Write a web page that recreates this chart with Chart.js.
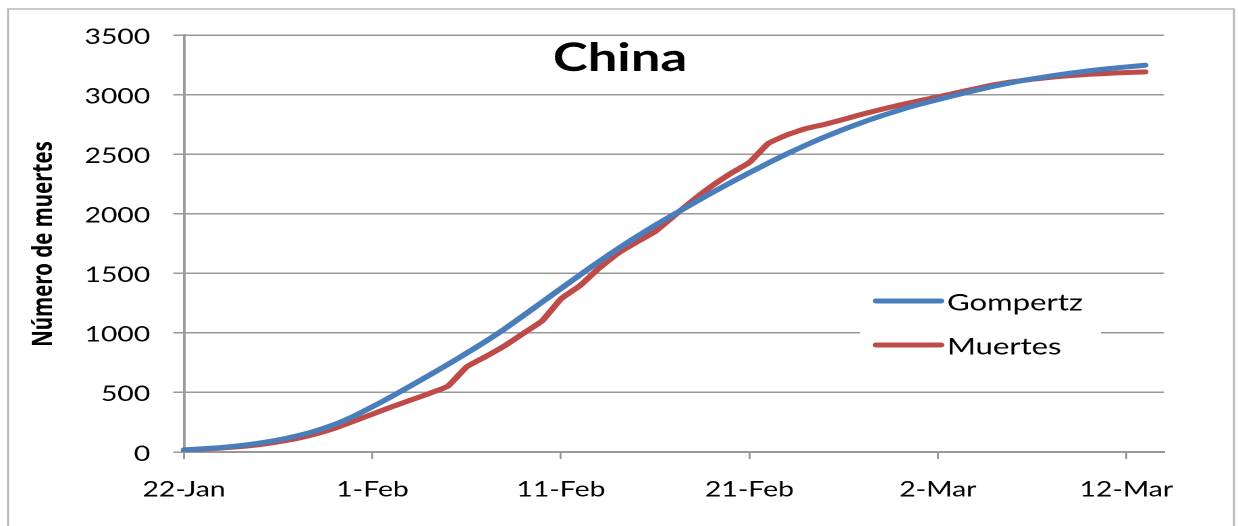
<!DOCTYPE html>
<html>
<head>
<meta charset="utf-8">
<script src="https://cdn.jsdelivr.net/npm/chart.js@4.4.1/dist/chart.umd.min.js"></script>
<style>
  html, body { margin: 0; padding: 0; background: #fff; overflow: hidden; }
  /* the original picture is an Excel chart stretched sideways, so draw narrow and stretch */
  #wrap { position: absolute; left: 0; top: 0; width: 917px; height: 526px; transform: scaleX(1.35); transform-origin: 0 0; }
</style>
</head>
<body>
<div id="wrap"><canvas id="myChart" width="917" height="526"></canvas></div>
<script>
// dias (22-Jan .. 14-Mar)
const fechas = [
  '22-Jan','23-Jan','24-Jan','25-Jan','26-Jan','27-Jan','28-Jan','29-Jan','30-Jan','31-Jan',
  '1-Feb','2-Feb','3-Feb','4-Feb','5-Feb','6-Feb','7-Feb','8-Feb','9-Feb','10-Feb',
  '11-Feb','12-Feb','13-Feb','14-Feb','15-Feb','16-Feb','17-Feb','18-Feb','19-Feb','20-Feb',
  '21-Feb','22-Feb','23-Feb','24-Feb','25-Feb','26-Feb','27-Feb','28-Feb','29-Feb','1-Mar',
  '2-Mar','3-Mar','4-Mar','5-Mar','6-Mar','7-Mar','8-Mar','9-Mar','10-Mar','11-Mar',
  '12-Mar','13-Mar','14-Mar'
];
const pasoEtiquetas = 10;

const gompertz = [18, 27, 38, 54, 75, 101, 135, 178, 232, 300, 380, 465, 553, 643, 735, 830, 928, 1032, 1144, 1258,
  1372, 1485, 1596, 1703, 1805, 1903, 1995, 2086, 2175, 2261, 2344, 2425, 2503, 2576, 2644, 2708, 2767, 2821, 2871, 2917,
  2958, 2997, 3035, 3071, 3103, 3131, 3156, 3179, 3199, 3217, 3232, 3246];

const muertes = [17, 24, 33, 46, 62, 86, 114, 152, 200, 258, 318, 378, 434, 490, 552, 715, 800, 890, 995, 1100,
  1285, 1395, 1540, 1665, 1760, 1850, 1982, 2112, 2232, 2337, 2430, 2590, 2662, 2715, 2750, 2792, 2836, 2876, 2913, 2948,
  2980, 3015, 3050, 3083, 3108, 3128, 3145, 3159, 3170, 3178, 3185, 3190];

const yMax = 3500;
const yPaso = 500;

const STRETCH = 1.35;
const sx = x => x / STRETCH;   // reference x -> canvas x
const W = 917;
const gris = '#999999';
const azul = '#4A7EBB';
const rojo = '#BE4B48';

const decor = {
  id: 'decor',
  beforeDraw(chart) {
    const ctx = chart.ctx;
    ctx.save();
    ctx.fillStyle = '#fff';
    ctx.fillRect(0, 0, chart.width, chart.height);
    ctx.strokeStyle = '#b8b8b8';
    ctx.lineWidth = 1.5;
    ctx.strokeRect(sx(8), 9, sx(1234) - sx(8), 600);
    ctx.restore();
  },
  afterDraw(chart) {
    const ctx = chart.ctx;
    ctx.save();
    // titulo
    ctx.fillStyle = '#000';
    ctx.font = 'bold 39px Lato';
    ctx.textAlign = 'center';
    ctx.textBaseline = 'alphabetic';
    ctx.fillText('China', sx(620), 71);
    // eje y
    ctx.save();
    ctx.translate(sx(52), 244);
    ctx.rotate(-Math.PI / 2);
    ctx.font = 'bold 20.5px "Noto Sans"';
    ctx.fillText('Número de muertes', 0, 0);
    ctx.restore();
    // leyenda
    ctx.fillStyle = '#fff';
    ctx.fillRect(sx(860), 282, sx(1101) - sx(860), 88);
    const items = [['Gompertz', azul, 301], ['Muertes', rojo, 345]];
    ctx.lineCap = 'round';
    ctx.lineWidth = 5;
    ctx.textAlign = 'left';
    ctx.textBaseline = 'middle';
    ctx.font = '23px Lato';
    items.forEach(([txt, col, y]) => {
      ctx.strokeStyle = col;
      ctx.beginPath();
      ctx.moveTo(sx(876), y);
      ctx.lineTo(sx(941), y);
      ctx.stroke();
      ctx.fillStyle = '#000';
      ctx.fillText(txt, sx(947), y + 2);
    });
    ctx.restore();
  }
};

const data = {
  labels: fechas,
  datasets: [
    { label: 'Gompertz', data: gompertz, borderColor: azul, borderWidth: 5, pointRadius: 0, tension: 0.2, borderCapStyle: 'round', fill: false },
    { label: 'Muertes', data: muertes, borderColor: rojo, borderWidth: 5, pointRadius: 0, tension: 0.1, borderCapStyle: 'round', fill: false }
  ]
};

const config = {
  type: 'line',
  data: data,
  options: {
    responsive: false,
    devicePixelRatio: 2,
    animation: false,
    layout: { padding: { left: 0, right: W - sx(1164), top: 35, bottom: 0 } },
    plugins: { legend: { display: false }, title: { display: false }, tooltip: { enabled: false } },
    scales: {
      x: {
        type: 'category',
        offset: false,
        grid: { drawOnChartArea: false, color: gris, tickLength: 7, lineWidth: 1.5 },
        border: { color: gris, width: 2 },
        ticks: { autoSkip: false, maxRotation: 0, padding: 18, color: '#000', font: { family: 'Lato', size: 21 } },
        afterBuildTicks: s => { s.ticks = s.ticks.filter(t => t.value % pasoEtiquetas === 0); },
        afterFit: s => { s.height = 74; s.paddingLeft = 0; s.paddingRight = 0; }
      },
      y: {
        min: 0,
        max: yMax,
        ticks: { stepSize: yPaso, padding: 17, labelOffset: 2, color: '#000', font: { family: 'Lato', size: 21 }, callback: v => String(v) },
        grid: { color: gris, lineWidth: 1.5, tickLength: 8 },
        border: { color: gris, width: 2 },
        afterFit: s => { s.width = sx(184); s.paddingTop = 0; s.paddingBottom = 0; }
      }
    }
  },
  plugins: [decor]
};

const ctx = document.getElementById('myChart').getContext('2d');
const myChart = new Chart(ctx, config);
</script>
</body>
</html>
